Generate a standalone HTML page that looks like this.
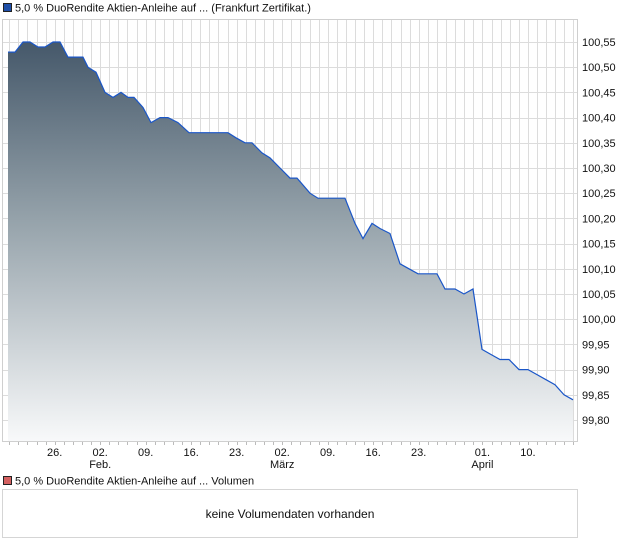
<!DOCTYPE html>
<html><head><meta charset="utf-8"><style>
body{margin:0;background:#fff;}
svg{display:block;font-family:"Liberation Sans",Arial,sans-serif;}
</style></head><body>
<svg width="620" height="546" viewBox="0 0 620 546" xmlns="http://www.w3.org/2000/svg">
<defs>
<linearGradient id="g" gradientUnits="userSpaceOnUse" x1="0" y1="42" x2="0" y2="441">
<stop offset="0" stop-color="#45586a"/>
<stop offset="0.45" stop-color="#96a3ab"/>
<stop offset="1" stop-color="#f8f9fa"/>
</linearGradient>
</defs>
<rect x="3.5" y="3.5" width="8" height="8" fill="#1f4fa8" stroke="#222" stroke-width="1"/>
<text x="15" y="11.5" font-size="11" fill="#111">5,0 % DuoRendite Aktien-Anleihe auf ... (Frankfurt Zertifikat.)</text>
<g id="gridlines"></g>
<polygon id="area" fill="url(#g)"/>
<polyline id="line" fill="none" stroke="#1a56c8" stroke-width="1.2"/>
<rect x="2.5" y="19.5" width="575" height="422" fill="none" stroke="#cfcfcf"/>
<g id="ticks" stroke="#bbb"></g>
<g font-size="11" fill="#111" id="ylab"></g>
<g font-size="11" fill="#111" text-anchor="middle">
<text x="54.7" y="456">26.</text>
<text x="100.2" y="456">02.</text><text x="100.2" y="468">Feb.</text>
<text x="145.7" y="456">09.</text>
<text x="191.2" y="456">16.</text>
<text x="236.7" y="456">23.</text>
<text x="282.2" y="456">02.</text><text x="282.2" y="468">März</text>
<text x="327.7" y="456">09.</text>
<text x="373.2" y="456">16.</text>
<text x="418.7" y="456">23.</text>
<text x="482.4" y="456">01.</text><text x="482.4" y="468">April</text>
<text x="527.9" y="456">10.</text>
</g>
<rect x="3.5" y="476.5" width="8" height="8" fill="#d46060" stroke="#222" stroke-width="1"/>
<text x="15" y="484.5" font-size="11" fill="#111">5,0 % DuoRendite Aktien-Anleihe auf ... Volumen</text>
<rect x="2.5" y="489.5" width="575" height="48" fill="#fff" stroke="#d5d5d5"/>
<text x="290" y="518" font-size="12" fill="#111" text-anchor="middle">keine Volumendaten vorhanden</text>
</svg>
<script>
const ns="http://www.w3.org/2000/svg";
const gl=document.getElementById('gridlines');
function ln(p,x1,y1,x2,y2,c){const l=document.createElementNS(ns,'line');l.setAttribute('x1',x1);l.setAttribute('y1',y1);l.setAttribute('x2',x2);l.setAttribute('y2',y2);l.setAttribute('stroke',c);p.appendChild(l);}
for(let x=9.2;x<578;x+=9.1){ln(gl,Math.round(x)+.5,20,Math.round(x)+.5,441,'#dcdcdc');ln(document.getElementById('ticks'),Math.round(x)+.5,442,Math.round(x)+.5,445,'#bbb');}
const Y=v=>42+(100.55-v)*504;
const yl=document.getElementById('ylab');
for(let i=0;i<=15;i++){const v=100.55-i*0.05;const y=Y(v);ln(gl,3,Math.round(y)+.5,578,Math.round(y)+.5,'#dcdcdc');
const t=document.createElementNS(ns,'text');t.setAttribute('x',582);t.setAttribute('y',y+4);t.textContent=v.toFixed(2).replace('.',',');yl.appendChild(t);}
const d=[[8,100.53],[15,100.53],[23,100.55],[30,100.55],[38,100.54],[45,100.54],[53,100.55],[60,100.55],[68,100.52],[83,100.52],[88,100.50],[92,100.495],[96,100.49],[105,100.45],[113,100.44],[121,100.45],[128,100.44],[134,100.44],[143,100.42],[151,100.39],[160,100.40],[168,100.40],[178,100.39],[189,100.37],[228,100.37],[236,100.36],[245,100.35],[252,100.35],[262,100.33],[270,100.32],[280,100.30],[290,100.28],[297,100.28],[310,100.25],[318,100.24],[345,100.24],[355,100.19],[363,100.16],[372,100.19],[380,100.18],[390,100.17],[400,100.11],[409,100.10],[418,100.09],[437,100.09],[445,100.06],[455,100.06],[464,100.05],[473,100.06],[482,99.94],[491,99.93],[500,99.92],[509,99.92],[519,99.90],[528,99.90],[537,99.89],[546,99.88],[555,99.87],[564,99.85],[573,99.84]];
const pts=d.map(p=>p[0]+','+Y(p[1]).toFixed(1)).join(' ');
document.getElementById('line').setAttribute('points',pts);
document.getElementById('area').setAttribute('points',pts+' 573,441 8,441');
</script>
</body></html>
